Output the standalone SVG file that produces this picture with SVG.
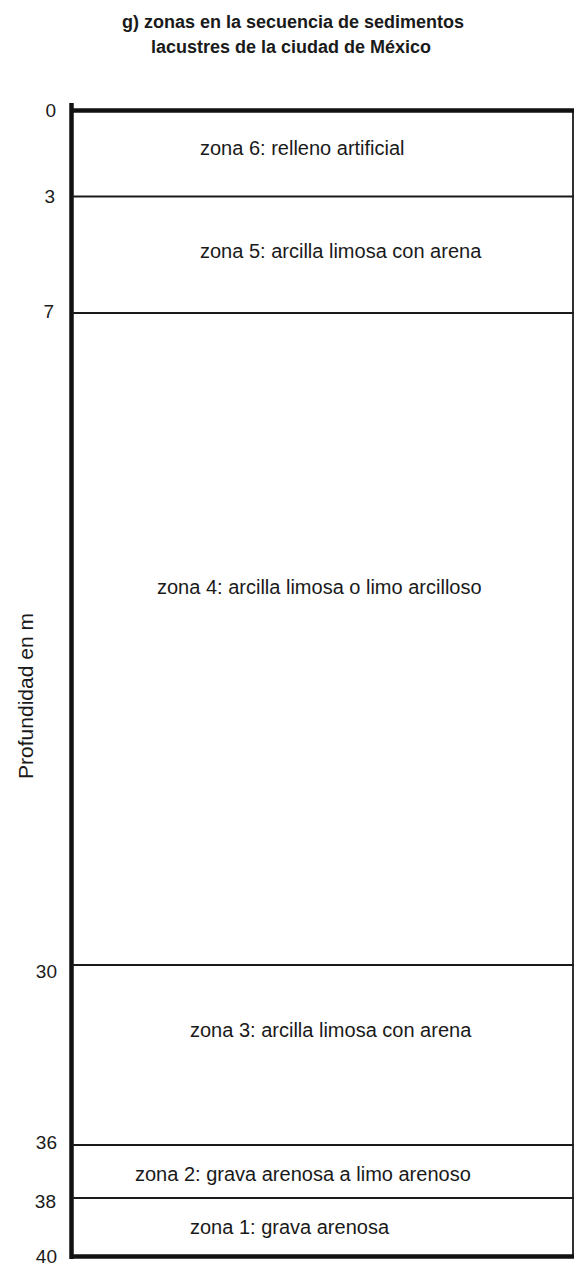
<svg xmlns="http://www.w3.org/2000/svg" width="574" height="1267" viewBox="0 0 574 1267">
<style>
.title{font-family:"Liberation Sans",Arial,sans-serif;font-size:18px;font-weight:bold;fill:#1a1a1a;text-anchor:middle}
.zone{font-family:"Liberation Sans",Arial,sans-serif;font-size:20px;fill:#1a1a1a}
.depth{font-family:"Liberation Sans",Arial,sans-serif;font-size:19px;fill:#1a1a1a;text-anchor:end}
.axis{font-family:"Liberation Sans",Arial,sans-serif;font-size:21px;fill:#1a1a1a;text-anchor:middle}
.thin{stroke:#1a1a1a;stroke-width:1.8;fill:none}
.thick{stroke:#111;stroke-width:4.5;fill:none}
</style>
<rect width="574" height="1267" fill="#fff"/>
<g id="title">
<text class="title" x="293" y="28">g) zonas en la secuencia de sedimentos</text>
<text class="title" x="291" y="53">lacustres de la ciudad de México</text>
</g>
<g id="frame">
<line class="thin" x1="573" y1="110" x2="573" y2="1257"/>
<line class="thick" x1="71.5" y1="103" x2="71.5" y2="1259"/>
<line class="thick" x1="70" y1="110.5" x2="574" y2="110.5"/>
<line class="thick" x1="70" y1="1256.5" x2="574" y2="1256.5"/>
</g>
<g id="boundaries">
<line class="thin" x1="72" y1="196.5" x2="574" y2="196.5"/>
<line class="thin" x1="72" y1="313" x2="574" y2="313"/>
<line class="thin" x1="72" y1="965" x2="574" y2="965"/>
<line class="thin" x1="72" y1="1145" x2="574" y2="1145"/>
<line class="thin" x1="72" y1="1198" x2="574" y2="1198"/>
</g>
<g id="depth-labels">
<text class="depth" x="56" y="117">0</text>
<text class="depth" x="55" y="203">3</text>
<text class="depth" x="54" y="318">7</text>
<text class="depth" x="57" y="978">30</text>
<text class="depth" x="57" y="1149">36</text>
<text class="depth" x="56" y="1208">38</text>
<text class="depth" x="57" y="1263">40</text>
</g>
<text class="axis" transform="translate(33,696) rotate(-90)">Profundidad en m</text>
<g id="zona6"><text class="zone" x="200" y="155">zona 6: relleno artificial</text></g>
<g id="zona5"><text class="zone" x="200" y="258">zona 5: arcilla limosa con arena</text></g>
<g id="zona4"><text class="zone" x="157" y="594">zona 4: arcilla limosa o limo arcilloso</text></g>
<g id="zona3"><text class="zone" x="190" y="1037">zona 3: arcilla limosa con arena</text></g>
<g id="zona2"><text class="zone" x="135" y="1181">zona 2: grava arenosa a limo arenoso</text></g>
<g id="zona1"><text class="zone" x="190" y="1234">zona 1: grava arenosa</text></g>
</svg>
